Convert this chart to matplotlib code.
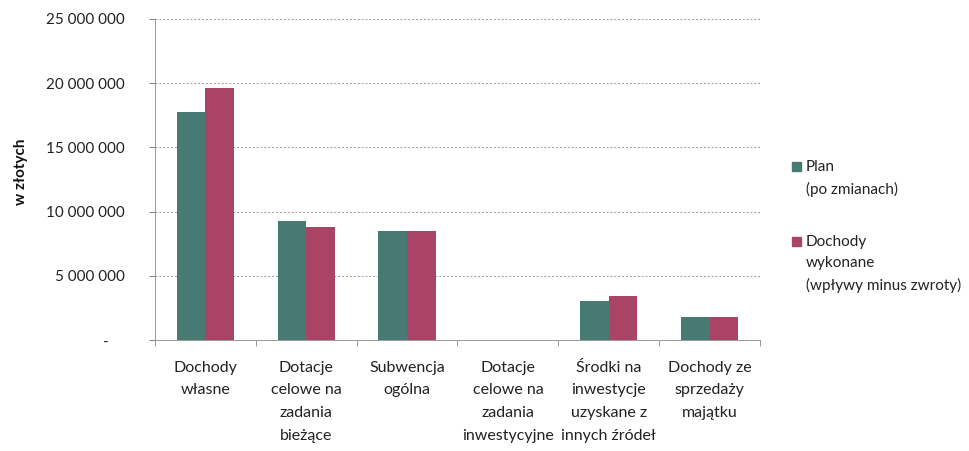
import matplotlib
matplotlib.use("Agg")
import matplotlib.pyplot as plt
import numpy as np
from matplotlib.ticker import FuncFormatter, MultipleLocator, FixedLocator
from matplotlib.patches import Rectangle

categories = ["Dochody\nwłasne", "Dotacje\ncelowe na\nzadania\nbieżące", "Subwencja\nogólna",
              "Dotacje\ncelowe na\nzadania\ninwestycyjne", "Środki na\ninwestycje\nuzyskane z\ninnych źródeł",
              "Dochody ze\nsprzedaży\nmajątku"]
plan = [17780000, 9290000, 8490000, 0, 3060000, 1820000]
wykonane = [19600000, 8780000, 8490000, 0, 3450000, 1820000]
series_names = ["Plan\n(po zmianach)", "Dochody\nwykonane\n(wpływy minus zwroty)"]
colors = ["#467A72", "#A94467"]

plt.rcParams['font.family'] = ['Lato', 'DejaVu Sans']

W, H = 970, 451
fig = plt.figure(figsize=(9.7, 4.51), dpi=100)
ax = fig.add_axes([155 / W, 1 - 340 / H, (760 - 155) / W, (340 - 19) / H])

x = np.arange(len(categories))
w = 0.285
ax.bar(x - w/2, plan, w, color=colors[0], zorder=3)
ax.bar(x + w/2, wykonane, w, color=colors[1], zorder=3)

ax.set_xlim(-0.5, len(categories) - 0.5)
ax.set_ylim(0, 25000000)
ax.yaxis.set_major_locator(MultipleLocator(5000000))

def fmt(v, pos):
    if v == 0:
        return "-" + "\u00a0" * 4
    return f"{int(v):,}".replace(",", " ")
ax.yaxis.set_major_formatter(FuncFormatter(fmt))

ax.set_xticks(x)
ax.set_xticklabels(categories, fontsize=11.5, linespacing=1.78, va="top", color="#222222")
ax.tick_params(axis="x", length=0, pad=15)
ax.xaxis.set_minor_locator(FixedLocator(np.arange(-0.5, len(categories), 1.0)))
ax.tick_params(axis="x", which="minor", length=4, color="#888888")
ax.tick_params(axis="y", length=4, color="#888888", labelsize=11, pad=18, labelcolor="#222222")

ax.grid(axis="y", linestyle=(0, (2, 2)), color="#999999", linewidth=0.7, zorder=0)
for s in ["top", "right"]:
    ax.spines[s].set_visible(False)
for s in ["left", "bottom"]:
    ax.spines[s].set_color("#999999")
    ax.spines[s].set_linewidth(0.7)

fig.text(21 / W, 1 - 172 / H, "w złotych", rotation=90, fontsize=11, fontweight="bold",
         ha="center", va="center", color="#111111")

# legend (handles aligned with first text line)
sq = 9
for name, c, yc in zip(series_names, colors, [166, 241]):
    fig.patches.append(Rectangle(((801 - sq) / W, 1 - (yc + sq / 2) / H), sq / W, sq / H,
                                 color=c, transform=fig.transFigure, figure=fig))
    fig.text(806 / W, 1 - (yc - 6) / H, name, fontsize=11, ha="left", va="top",
             linespacing=1.64, color="#222222")

fig.savefig("out.png", dpi=100)
